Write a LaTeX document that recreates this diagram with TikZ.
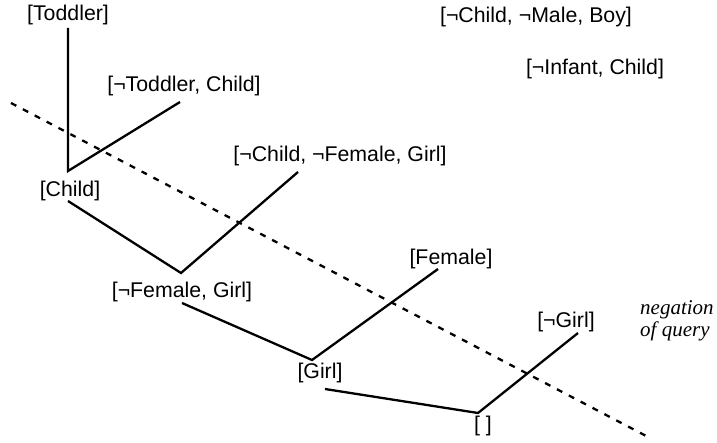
\documentclass[tikz,border=0pt]{standalone}
\usepackage{fontspec}
\setmainfont{Liberation Sans}
\newfontfamily\querifont{Liberation Serif}
\begin{document}
\begin{tikzpicture}[x=1pt,y=-1pt,
  lbl/.style={inner sep=0pt,anchor=center,font=\fontsize{21.3}{25}\selectfont},
  edge/.style={line width=2.3pt},
  cut/.style={line width=2.3pt,dash pattern=on 6pt off 7.4pt}]
\useasboundingbox (0,0) rectangle (717,443);
% labels
\node[lbl] (toddler) at (68,15) {[Toddler]};
\node[lbl] (ntoddler) at (184,86) {[¬Toddler, Child]};
\node[lbl] (child) at (70,191) {[Child]};
\node[lbl] (ncnfg) at (340,156) {[¬Child, ¬Female, Girl]};
\node[lbl] (nfg) at (182,292) {[¬Female, Girl]};
\node[lbl] (girl) at (320,373) {[Girl]};
\node[lbl] (female) at (451,259) {[Female]};
\node[lbl] (empty) at (483,426) {[ ]};
\node[lbl] (ngirl) at (566,322) {[¬Girl]};
\node[lbl] (ncnmb) at (536,17) {[¬Child, ¬Male, Boy]};
\node[lbl] (nic) at (595,69) {[¬Infant, Child]};
\node[inner sep=0pt,anchor=west,align=left,font=\querifont\itshape\fontsize{21}{22}\selectfont] (negq) at (640,321) {negation\\of query};
% connector end points
\coordinate (t1) at (68,28);
\coordinate (v1) at (68,171);
\coordinate (tc) at (180,102);
\coordinate (c2) at (68,201);
\coordinate (v2) at (181,273);
\coordinate (cfg) at (298,172);
\coordinate (fg2) at (182,303);
\coordinate (v3) at (312,360);
\coordinate (fe) at (438,269);
\coordinate (g2) at (325,389);
\coordinate (v4) at (478,413);
\coordinate (ng) at (578,333);
\coordinate (d1) at (11,103);
\coordinate (d2) at (650,438);
% edges
\draw[edge] (t1) -- (v1) -- (tc);
\draw[edge] (c2) -- (v2) -- (cfg);
\draw[edge] (fg2) -- (v3) -- (fe);
\draw[edge] (g2) -- (v4) -- (ng);
\draw[cut] (d1) -- (d2);
\end{tikzpicture}
\end{document}
